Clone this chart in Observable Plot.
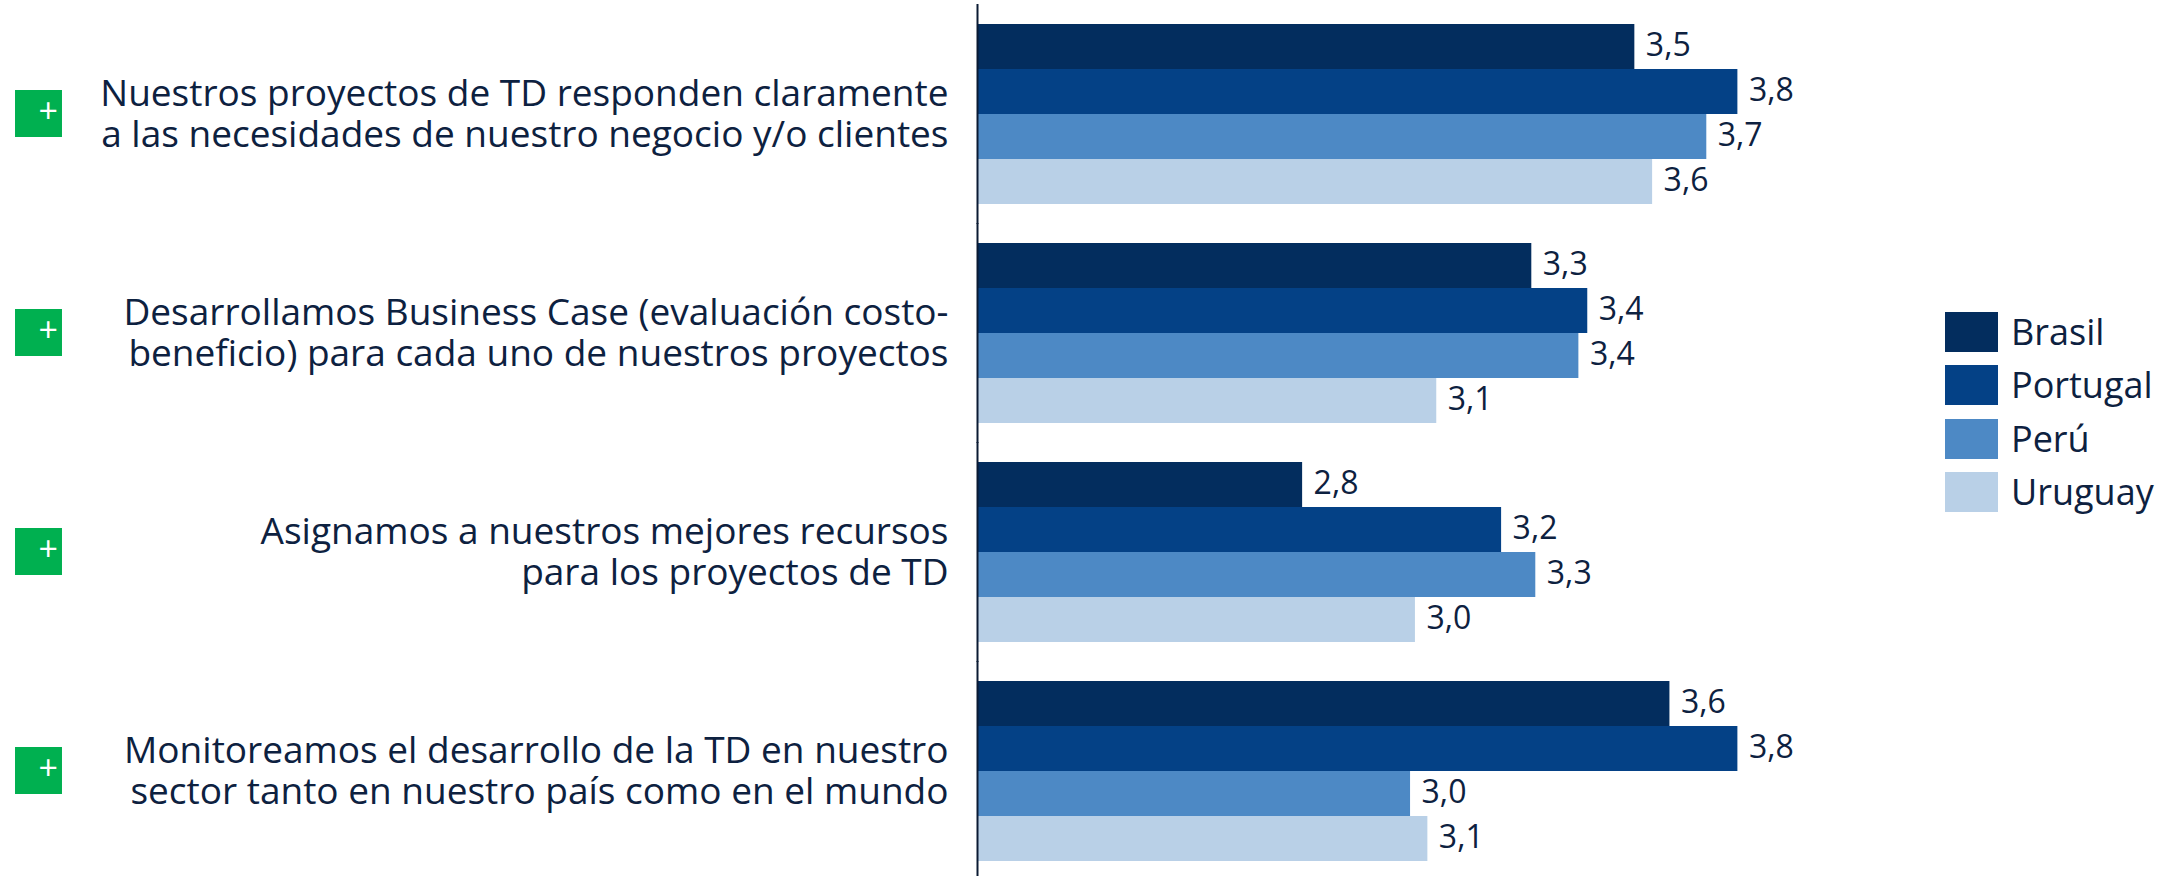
<!DOCTYPE html>
<html>
<head>
<meta charset="utf-8">
<script src="https://cdn.jsdelivr.net/npm/d3@7"></script>
<script src="https://cdn.jsdelivr.net/npm/@observablehq/plot@0.6"></script>
<style>
  html, body { margin: 0; padding: 0; background: #fff; overflow: hidden; }
  #wrap { position: relative; width: 2175px; height: 876px; font-family: "Open Sans", sans-serif; }
  #legend { position: absolute; left: 1945px; top: 312px; }
  .row { display: flex; align-items: center; height: 40px; margin-bottom: 13.3px; }
  .sw { width: 53px; height: 40px; margin-right: 13px; }
  .lab { font-size: 36px; color: #0d2140; line-height: 40px; }
</style>
</head>
<body>
<div id="wrap"><div id="legend"></div></div>
<script>
// Categories (questions), shown on two lines each
const questions = [
  "Nuestros proyectos de TD responden claramente\na las necesidades de nuestro negocio y/o clientes",
  "Desarrollamos Business Case (evaluación costo-\nbeneficio) para cada uno de nuestros proyectos",
  "Asignamos a nuestros mejores recursos\npara los proyectos de TD",
  "Monitoreamos el desarrollo de la TD en nuestro\nsector tanto en nuestro país como en el mundo"
];
// Series
const countries = ["Brasil", "Portugal", "Perú", "Uruguay"];
const colors = ["#032d5e", "#044186", "#4d89c5", "#b9d0e7"];
// Values per country (one per question)
const brasil   = [3.530, 3.298, 2.782, 3.609];
const portugal = [3.762, 3.424, 3.230, 3.762];
const peru     = [3.692, 3.404, 3.307, 3.025];
const uruguay  = [3.570, 3.084, 3.036, 3.064];
const seriesValues = [brasil, portugal, peru, uruguay];
// Visible x-axis start
const xStart = 2.05;
const xEnd = 4.7;

const data = [];
questions.forEach((q, i) => {
  countries.forEach((c, j) => {
    data.push({question: q, country: c, value: seriesValues[j][i]});
  });
});
const fmt = v => d3.format(".1f")(v).replace(".", ",");
const qData = questions.map(q => ({question: q}));

const textColor = "#0d2140";

const chart = Plot.plot({
  width: 2175,
  height: 876,
  marginLeft: 977,
  marginRight: 21,
  marginTop: 23,
  marginBottom: 14,
  style: {fontFamily: "'Open Sans', sans-serif", color: textColor, background: "transparent"},
  x: {domain: [xStart, xEnd], axis: null},
  y: {domain: countries, padding: 0, axis: null},
  fy: {domain: questions, paddingInner: 0.169, paddingOuter: 0, axis: null},
  color: {domain: countries, range: colors},
  marks: [
    Plot.barX(data, {x: "value", y: "country", fy: "question", fill: "country", clip: true}),
    Plot.text(data, {
      x: "value", y: "country", fy: "question", text: d => fmt(d.value),
      textAnchor: "start", dx: 11, dy: -1.5, fontSize: 32, fill: textColor
    }),
    Plot.ruleX([xStart], {stroke: "#0a1a33", strokeWidth: 2, insetTop: -19, insetBottom: -19}),
    Plot.text(qData, {
      fy: "question", text: "question", frameAnchor: "left", textAnchor: "end",
      dx: -29, dy: -1, fontSize: 37, lineHeight: 1.11, fill: textColor
    }),
    Plot.dot(qData, {
      fy: "question", frameAnchor: "left", dx: -939, dy: -1, symbol: "square",
      r: 26.5, fill: "#00b050", stroke: "none"
    }),
    Plot.text(qData, {
      fy: "question", text: () => "+", frameAnchor: "left", dx: -939, dy: -2,
      fontSize: 34, fill: "white"
    })
  ]
});
document.getElementById("wrap").prepend(chart);

const legend = document.getElementById("legend");
countries.forEach((c, i) => {
  const row = document.createElement("div");
  row.className = "row";
  const sw = document.createElement("div");
  sw.className = "sw";
  sw.style.background = colors[i];
  const lab = document.createElement("div");
  lab.className = "lab";
  lab.textContent = c;
  row.appendChild(sw);
  row.appendChild(lab);
  legend.appendChild(row);
});
</script>
</body>
</html>
